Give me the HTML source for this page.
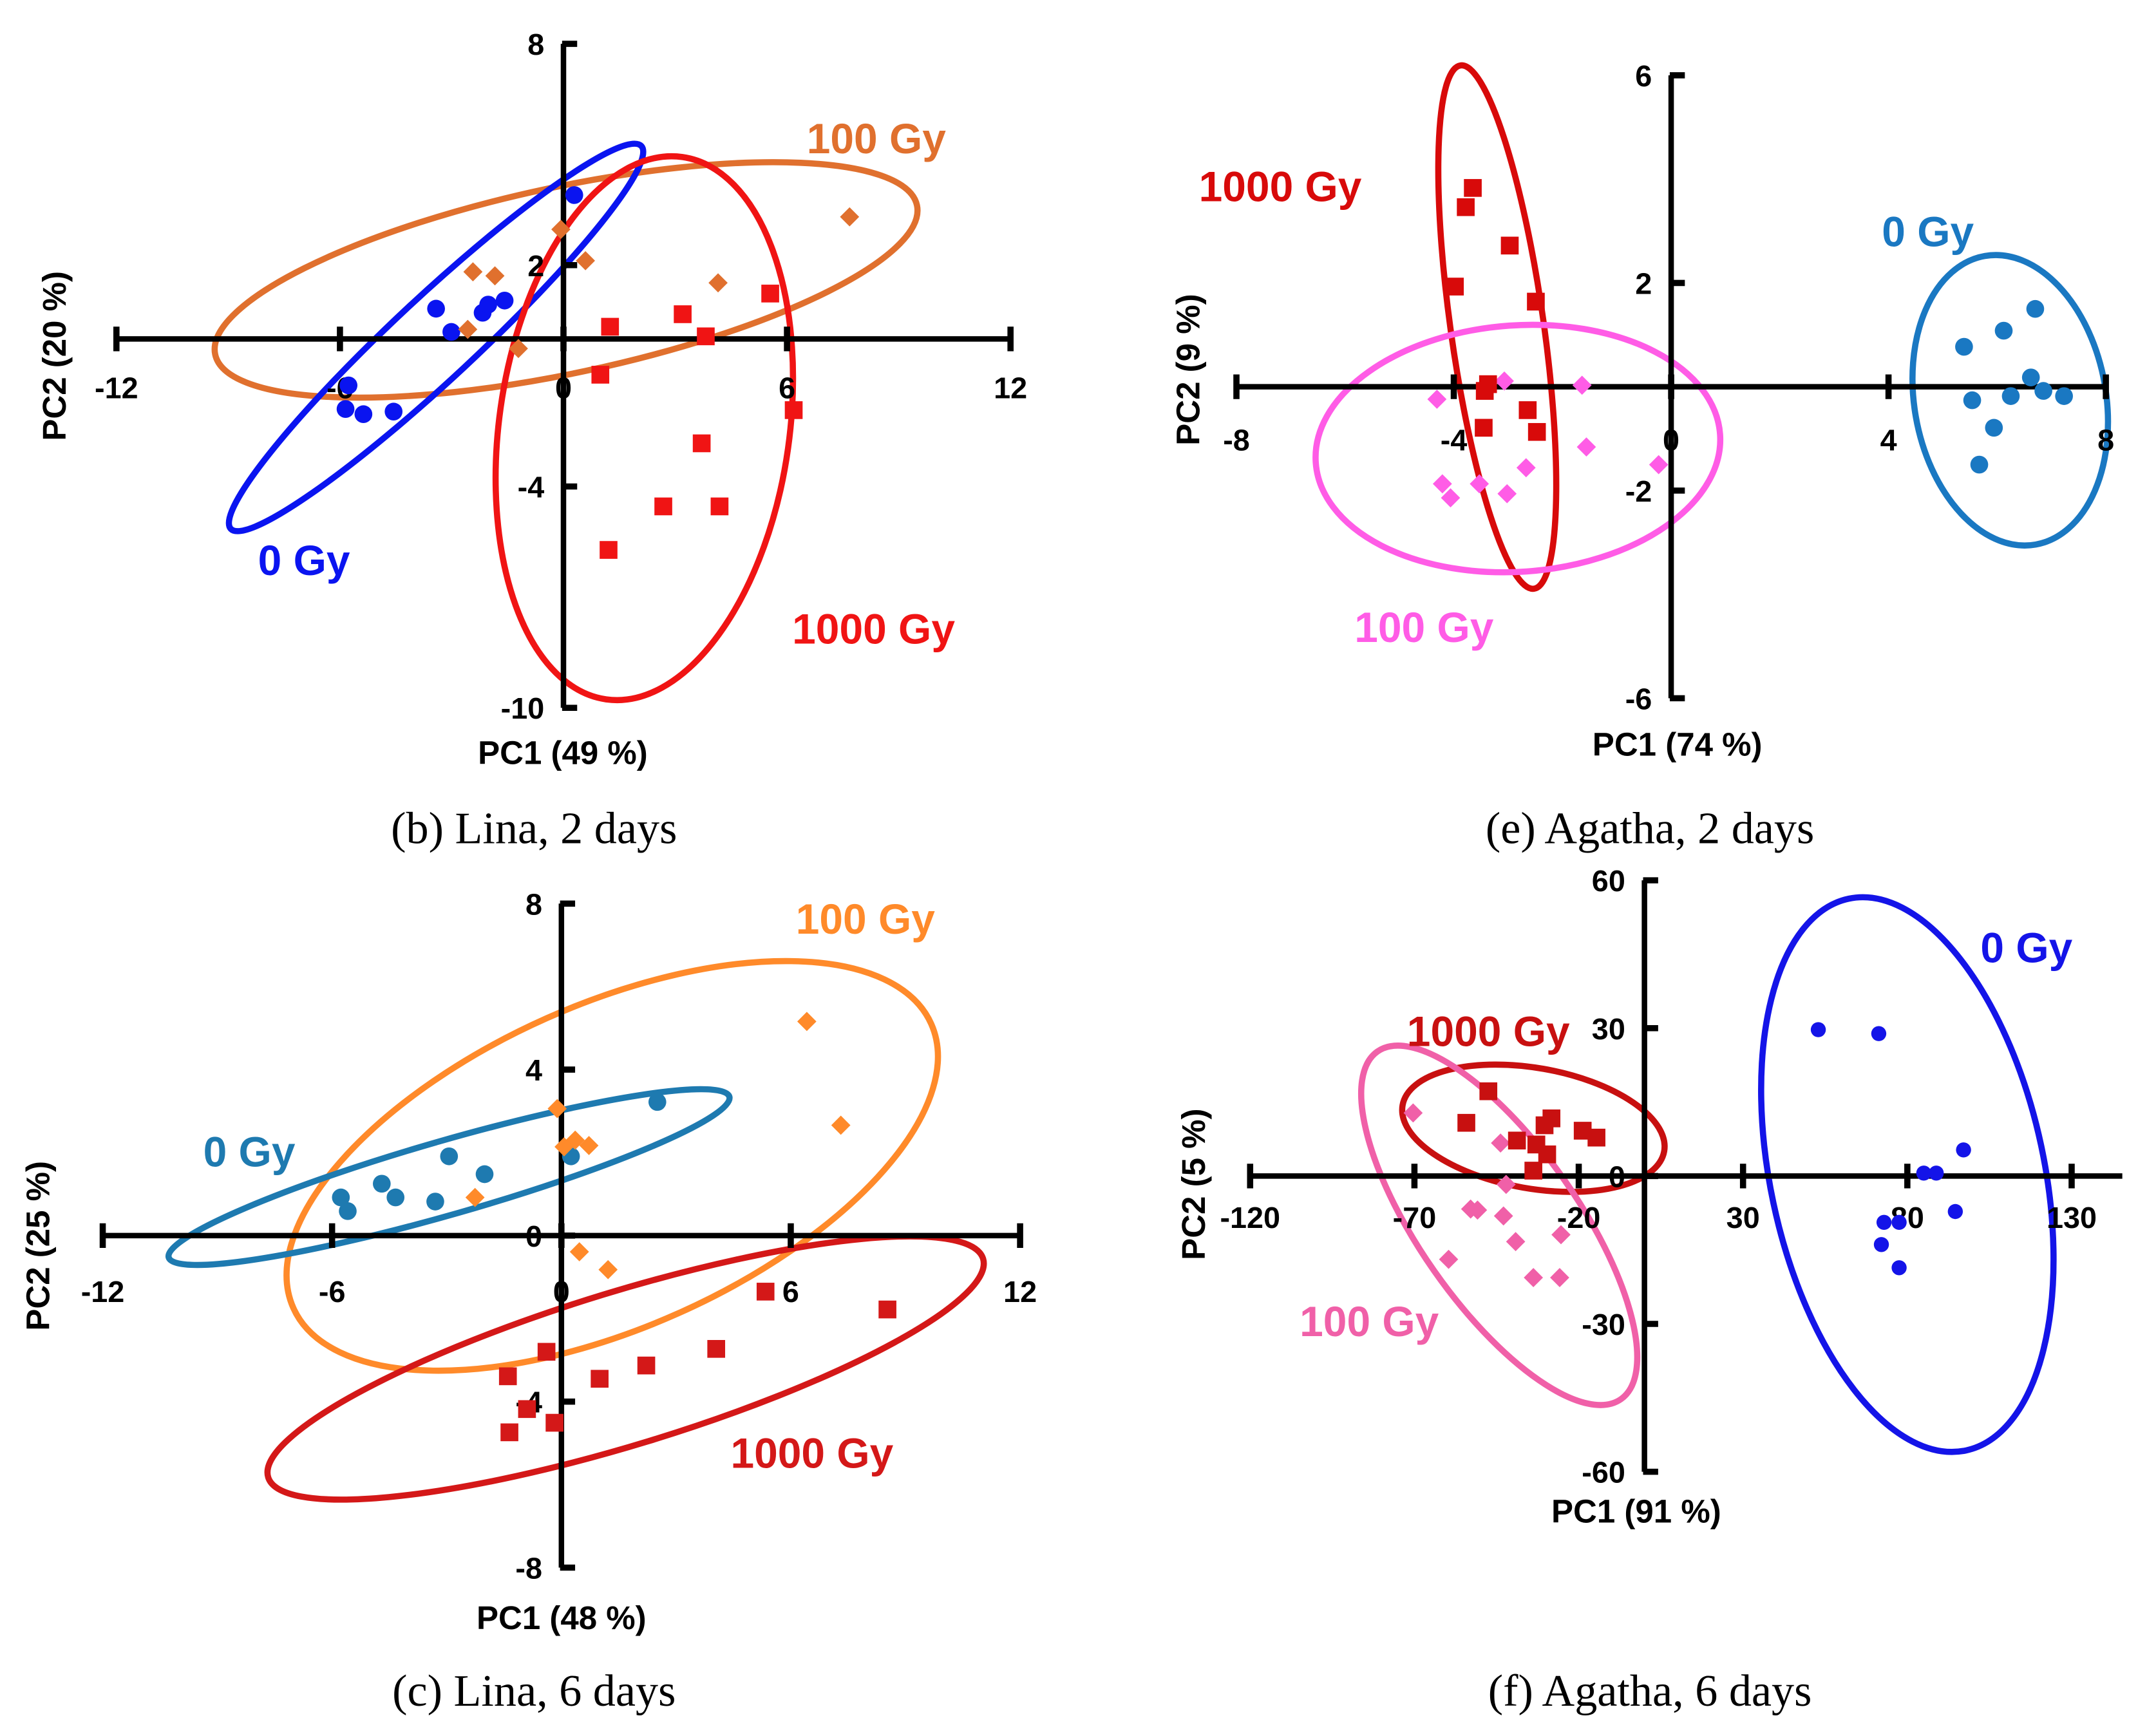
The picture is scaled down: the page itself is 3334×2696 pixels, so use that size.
<!DOCTYPE html>
<html><head><meta charset="utf-8"><style>
html,body{margin:0;padding:0;background:#fff}
svg{display:block}
.tk{font-family:"Liberation Sans",sans-serif;font-weight:bold;font-size:22px;fill:#000}
.tt{font-family:"Liberation Sans",sans-serif;font-weight:bold;font-size:24px;fill:#000}
.cap{font-family:"Liberation Serif",serif;font-size:33px;fill:#000}
.gl{font-family:"Liberation Sans",sans-serif;font-weight:bold;font-size:31px}
</style></head><body>
<svg id="fig" width="3334" height="2696" viewBox="0 0 1568 1268" xmlns="http://www.w3.org/2000/svg"></svg>
<script>
// ---- Panel b: Lina, 2 days ----
const b0x=[0.29,-3.42,-2.17,-2.02,-1.58,-3.01,-5.77,-5.85,-5.37,-4.56];
const b0y=[3.9,0.82,0.71,0.93,1.04,0.19,-1.26,-1.9,-2.04,-1.97];
const b100x=[-0.07,0.59,-2.43,-1.84,-2.57,-1.21,4.15,7.68];
const b100y=[2.97,2.12,1.82,1.71,0.26,-0.26,1.52,3.31];
const b1000x=[1.25,3.2,3.82,5.55,0.99,6.18,3.71,2.68,4.19,1.21];
const b1000y=[0.33,0.67,0.07,1.23,-0.97,-1.93,-2.83,-4.54,-4.54,-5.72];
const bXTicks=[-12,-6,0,6,12];
const bYTicks=[8,2,-4,-10];
// ---- Panel e: Agatha, 2 days ----
const e0x=[5.39,6.12,6.7,6.62,6.85,7.23,5.54,6.25,5.94,5.67];
const e0y=[0.77,1.08,1.5,0.18,-0.08,-0.18,-0.26,-0.18,-0.79,-1.5];
const e100x=[-3.07,-4.31,-1.64,-1.56,-2.67,-0.23,-4.21,-3.53,-4.06,-3.02];
const e100y=[0.11,-0.24,0.03,-1.16,-1.56,-1.5,-1.87,-1.87,-2.14,-2.06];
const e1000x=[-3.65,-3.78,-2.97,-3.98,-2.49,-3.37,-3.43,-2.64,-3.45,-2.47];
const e1000y=[3.83,3.46,2.72,1.93,1.64,0.05,-0.08,-0.45,-0.79,-0.87];
const eXTicks=[-8,-4,0,4,8];
const eYTicks=[6,2,-2,-6];
// ---- Panel c: Lina, 6 days ----
const c0x=[2.51,0.25,-2.94,-2.01,-4.7,-4.34,-5.77,-5.59,-3.3];
const c0y=[3.22,1.91,1.91,1.48,1.25,0.92,0.92,0.59,0.82];
const c100x=[6.42,7.31,-0.11,0.36,0.72,0.07,-2.26,0.47,1.22];
const c100y=[5.16,2.66,3.06,2.3,2.17,2.14,0.92,-0.39,-0.82];
const c1000x=[8.53,5.34,4.05,2.22,1.0,-0.39,-1.4,-0.9,-0.18,-1.36];
const c1000y=[-1.78,-1.35,-2.73,-3.13,-3.45,-2.8,-3.39,-4.18,-4.51,-4.74];
const cXTicks=[-12,-6,0,6,12];
const cYTicks=[8,4,0,-4,-8];
// ---- Panel f: Agatha, 6 days ----
const f0x=[52.9,71.3,97.1,85,88.8,94.6,72.9,77.5,72.1,77.5];
const f0y=[29.7,28.9,5.3,0.6,0.6,-7.2,-9.4,-9.4,-13.9,-18.6];
const f100x=[-70.4,-43.8,-42.1,-52.9,-50.8,-42.9,-59.6,-39.2,-25.4,-33.8,-25.8];
const f100y=[12.8,6.7,-1.7,-6.7,-6.9,-8.1,-16.9,-13.3,-11.9,-20.6,-20.6];
const f1000x=[-47.5,-54.2,-28.3,-30.4,-38.8,-32.9,-18.8,-14.6,-33.8,-29.6];
const f1000y=[17.2,10.8,11.7,10.3,7.2,6.4,9.2,7.8,1.1,4.4];
const fXTicks=[-120,-70,-20,30,80,130];
const fYTicks=[60,30,0,-30,-60];

const NS="http://www.w3.org/2000/svg";
const svg=document.getElementById('fig');
function mk(tag,attrs,parent,text){const e=document.createElementNS(NS,tag);for(const k in attrs)e.setAttribute(k,attrs[k]);if(text!==undefined)e.textContent=text;(parent||svg).appendChild(e);return e;}

const panels=[
 {id:'b',ax:{x0:-12,x1:12,px0:85,px1:738,y0:-10,y1:8,py0:517,py1:32,xEnd:738},xt:bXTicks,yt:bYTicks,
  xlab:[-12,-6,0,6,12],xlY:291,ylX:380,tsz:22,
  title1:['PC1 (49 %)',411,558],title2:['PC2 (20 %)',48,260],cap:['(b) Lina, 2 days',390,616],
  series:[
   {n:'0-gy',x:b0x,y:b0y,m:'c',col:'#0A14F0'},
   {n:'100-gy',x:b100x,y:b100y,m:'d',col:'#E0702E'},
   {n:'1000-gy',x:b1000x,y:b1000y,m:'s',col:'#F01414'}],
  ell:[{n:'100-gy',cx:0.07,cy:1.6,a:262,b:68,r:-12,col:'#E0702E'},
       {n:'0-gy',cx:-3.42,cy:0.04,a:205,b:30,r:-43,col:'#0A14F0'},
       {n:'1000-gy',cx:2.17,cy:-2.42,a:200,b:106,r:-82,col:'#F01414'}],
  lab:[['100 Gy',640,112,'#E0702E'],['0 Gy',222,420,'#0A14F0'],['1000 Gy',638,470,'#F01414']]},
 {id:'e',ax:{x0:-8,x1:8,px0:903,px1:1538,y0:-6,y1:6,py0:510,py1:55,xEnd:1538},xt:eXTicks,yt:eYTicks,
  xlab:[-8,-4,0,4,8],xlY:329,ylX:1196,tsz:22,
  title1:['PC1 (74 %)',1225,552],title2:['PC2 (9 %)',876,270],cap:['(e) Agatha, 2 days',1205,616],
  series:[
   {n:'0-gy',x:e0x,y:e0y,m:'c',col:'#1A78C2'},
   {n:'100-gy',x:e100x,y:e100y,m:'d',col:'#FF5CE6'},
   {n:'1000-gy',x:e1000x,y:e1000y,m:'s',col:'#D80A0A'}],
  ell:[{n:'1000-gy',cx:-3.2,cy:1.15,a:193,b:34,r:82,col:'#D80A0A'},
       {n:'100-gy',cx:-2.82,cy:-1.19,a:148,b:90,r:-4,col:'#FF5CE6'},
       {n:'0-gy',cx:6.24,cy:-0.26,a:107,b:70,r:80,col:'#1A78C2'}],
  lab:[['1000 Gy',935,147,'#D80A0A'],['0 Gy',1408,180,'#1A78C2'],['100 Gy',1040,469,'#FF5CE6']]},
 {id:'c',ax:{x0:-12,x1:12,px0:75,px1:745,y0:-8,y1:8,py0:1145,py1:660,xEnd:745},xt:cXTicks,yt:cYTicks,
  xlab:[-12,-6,0,6,12],xlY:951,ylX:376,tsz:22,
  title1:['PC1 (48 %)',410,1190],title2:['PC2 (25 %)',36,910],cap:['(c) Lina, 6 days',390,1246],
  series:[
   {n:'0-gy',x:c0x,y:c0y,m:'c',col:'#1E7AB0'},
   {n:'100-gy',x:c100x,y:c100y,m:'d',col:'#FF8A2A'},
   {n:'1000-gy',x:c1000x,y:c1000y,m:'s',col:'#D41818'}],
  ell:[{n:'100-gy',cx:1.33,cy:1.68,a:255,b:118,r:-24,col:'#FF8A2A'},
       {n:'0-gy',cx:-2.94,cy:1.41,a:213,b:27,r:-16,col:'#1E7AB0'},
       {n:'1000-gy',cx:1.68,cy:-3.19,a:273,b:56,r:-17,col:'#D41818'}],
  lab:[['100 Gy',632,682,'#FF8A2A'],['0 Gy',182,852,'#1E7AB0'],['1000 Gy',593,1072,'#D41818']]},
 {id:'f',ax:{x0:-120,x1:130,px0:913,px1:1513,y0:-60,y1:60,py0:1075,py1:643,xEnd:1550},xt:fXTicks,yt:fYTicks,
  xlab:[-120,-70,-20,30,80,130],xlY:897,ylX:1180,tsz:19,
  title1:['PC1 (91 %)',1195,1112],title2:['PC2 (5 %)',880,865],cap:['(f) Agatha, 6 days',1205,1246],
  series:[
   {n:'0-gy',x:f0x,y:f0y,m:'c',col:'#1414E8'},
   {n:'100-gy',x:f100x,y:f100y,m:'d',col:'#F060A8'},
   {n:'1000-gy',x:f1000x,y:f1000y,m:'s',col:'#C81010'}],
  ell:[{n:'1000-gy',cx:-33.8,cy:9.7,a:97,b:44,r:10,col:'#C81010'},
       {n:'100-gy',cx:-44.2,cy:-10,a:155,b:58,r:55,col:'#F060A8'},
       {n:'0-gy',cx:80,cy:0.3,a:206,b:100,r:78,col:'#1414E8'}],
  lab:[['0 Gy',1480,703,'#1414E8'],['1000 Gy',1087,764,'#C81010'],['100 Gy',1000,976,'#F060A8']],small:true}
];

panels.forEach(p=>{
 const A=p.ax;
 const sx=v=>A.px0+(v-A.x0)*(A.px1-A.px0)/(A.x1-A.x0);
 const sy=v=>A.py0+(v-A.y0)*(A.py1-A.py0)/(A.y1-A.y0);
 const g=mk('g',{});
 
 
 const ox=sx(0), oy=sy(0);
 p.ell.forEach(e=>{
  const el=mk('ellipse',{cx:sx(e.cx),cy:sy(e.cy),rx:e.a,ry:e.b,transform:`rotate(${e.r} ${sx(e.cx)} ${sy(e.cy)})`,fill:'none',stroke:e.col,'stroke-width':4.5},g);
  
  
 });
 const xa=mk('line',{x1:A.px0,y1:oy,x2:A.xEnd,y2:oy,stroke:'#000','stroke-width':4},g);
 
 
 const ya=mk('line',{x1:ox,y1:A.py0,x2:ox,y2:A.py1,stroke:'#000','stroke-width':4},g);
 
 
 p.xt.forEach(t=>{
  const l=mk('line',{x1:sx(t),y1:oy-9,x2:sx(t),y2:oy+9,stroke:'#000','stroke-width':4.5},g);
  
  
 });
 p.yt.forEach(t=>{
  const l=mk('line',{x1:ox-1,y1:sy(t),x2:ox+10,y2:sy(t),stroke:'#000','stroke-width':4.5},g);
  
  
 });
 p.xlab.forEach(t=>{
  const tx=mk('text',{x:sx(t),y:p.xlY,'text-anchor':'middle',class:'tk','font-size':p.tsz},g,String(t));
  
  
 });
 p.yt.forEach(t=>{
  const tx=mk('text',{x:ox-14,y:sy(t)+8,'text-anchor':'end',class:'tk','font-size':p.tsz},g,String(t));
  
  
 });
 p.series.forEach(s=>{
  s.x.forEach((xv,i)=>{
   const X=sx(xv),Y=sy(s.y[i]);let m;
   if(s.m==='c') m=mk('circle',{cx:X,cy:Y,r:p.small?5.5:6.5,fill:s.col},g);
   else if(s.m==='s') m=mk('rect',{x:X-6.5,y:Y-6.5,width:13,height:13,fill:s.col},g);
   else m=mk('polygon',{points:`${X},${Y-7} ${X+7},${Y} ${X},${Y+7} ${X-7},${Y}`,fill:s.col},g);
   
   
  });
 });
 p.lab.forEach(l=>{
  const t=mk('text',{x:l[1],y:l[2],'text-anchor':'middle',class:'gl',fill:l[3],'font-size':p.small?28:31},g,l[0]);
  
  
 });
 const t1=mk('text',{x:p.title1[1],y:p.title1[2],'text-anchor':'middle',class:'tt','font-size':p.small?21:24},g,p.title1[0]);
 
 
 const t2=mk('text',{x:p.title2[1],y:p.title2[2],'text-anchor':'middle',class:'tt','font-size':p.small?21:24,transform:`rotate(-90 ${p.title2[1]} ${p.title2[2]})`},g,p.title2[0]);
 
 
 const cp=mk('text',{x:p.cap[1],y:p.cap[2],'text-anchor':'middle',class:'cap'},g,p.cap[0]);
 
 
});
</script>
</body></html>
